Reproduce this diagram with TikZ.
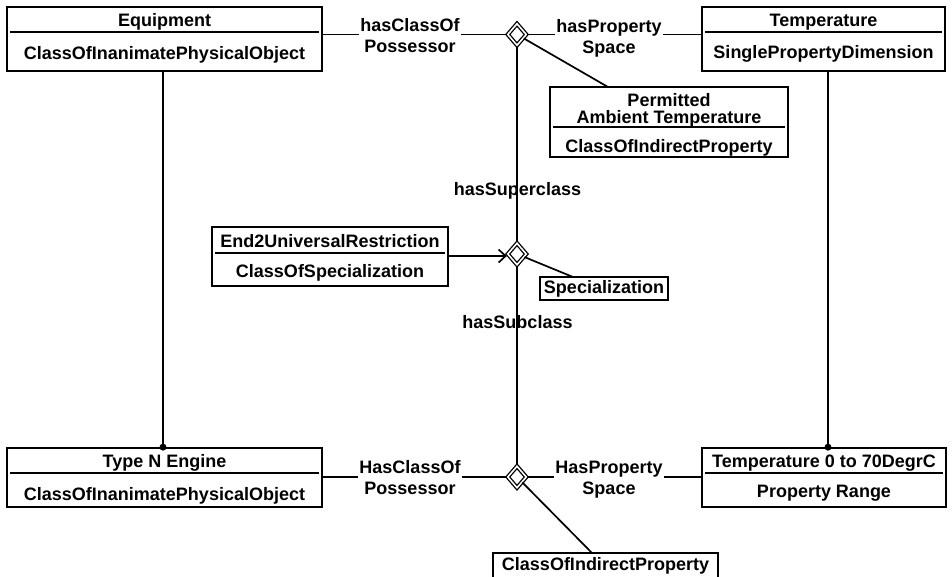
\documentclass[tikz,border=0pt]{standalone}
\usepackage{fontspec}
\setmainfont{Liberation Sans}
\usetikzlibrary{shapes.geometric,arrows.meta,fit}
\begin{document}
\begin{tikzpicture}[x=1pt,y=-1pt,
  box/.style={draw, line width=1.7pt, inner sep=0pt, fill=white},
  txt/.style={font=\bfseries\fontsize{18}{21}\selectfont, inner sep=0pt, anchor=base},
  lbl/.style={font=\bfseries\fontsize{18}{21}\selectfont, align=center, inner sep=1.5pt, fill=white, anchor=center},
  conn/.style={line width=1.7pt},
  divline/.style={line width=1.4pt},
  dia/.style={diamond, draw, line width=1.3pt, double, double distance=1.6pt,
    minimum width=19pt, minimum height=22pt, inner sep=0pt},
  tip/.style={-{Straight Barb[length=7pt,width=13pt]}},
  ]
\useasboundingbox (0,0) rectangle (952,576);

% ---- boxes ----
\node[box, fit={(7,7) (322,71)}] (equip) {};
\draw[divline] (10,32) -- (319,32);
\node[txt] (equipT) at (164.5,26) {Equipment};
\node[txt] (equipB) at (164.5,59) {ClassOfInanimatePhysicalObject};

\node[box, fit={(702,7) (945,71)}] (temp) {};
\draw[divline] (705,32) -- (942,32);
\node[txt] (tempT) at (823.5,26) {Temperature};
\node[txt] (tempB) at (823.5,58) {SinglePropertyDimension};

\node[box, fit={(550,87) (788,157)}] (perm) {};
\draw[divline] (553,127) -- (785,127);
\node[txt] (permT1) at (669,106) {Permitted};
\node[txt] (permT2) at (669,123) {Ambient Temperature};
\node[txt] (permB) at (669,152) {ClassOfIndirectProperty};

\node[box, fit={(212,227) (448,286)}] (end2) {};
\draw[divline] (215,253) -- (445,253);
\node[txt] (end2T) at (330,247) {End2UniversalRestriction};
\node[txt] (end2B) at (330,277) {ClassOfSpecialization};

\node[box, fit={(540,277) (668,300)}] (spec) {};
\node[txt] (specT) at (604,293) {Specialization};

\node[box, fit={(7,448) (322,507)}] (typeN) {};
\draw[divline] (10,473) -- (319,473);
\node[txt] (typeNT) at (164.5,467) {Type N Engine};
\node[txt] (typeNB) at (164.5,500) {ClassOfInanimatePhysicalObject};

\node[box, fit={(702,448) (946,507)}] (trange) {};
\draw[divline] (705,473) -- (943,473);
\node[txt] (trangeT) at (824,467) {Temperature 0 to 70DegrC};
\node[txt] (trangeB) at (824,497) {Property Range};

\node[box, fit={(493,553) (718,590)}] (cip) {};
\node[txt] (cipT) at (605.5,570) {ClassOfIndirectProperty};

% ---- diamonds ----
\node[dia] (d1) at (517,34.5) {};
\node[dia] (d2) at (517,254) {};
\node[dia] (d3) at (517,477) {};

% ---- vertical labels (under the line) ----
\node[txt] (sup) at (517.5,195) {hasSuperclass};
\node[txt] (sub) at (517.5,328) {hasSubclass};

% ---- connectors ----
\draw[conn] (d1) -- (d2);
\draw[conn] (d2) -- (d3);

\draw[conn] (equip.east |- d1) -- (d1);
\draw[conn] (d1) -- (temp.west |- d1);
\draw[conn] (d3) -- (typeN.east |- d3);
\draw[conn] (d3) -- (trange.west |- d3);

\node[lbl] (lhc1) at (410,36) {hasClassOf\\Possessor};
\node[lbl] (lhp1) at (609,38) {hasProperty\\Space};
\node[lbl] (lhc2) at (410,478) {HasClassOf\\Possessor};
\node[lbl] (lhp2) at (609,480) {HasProperty\\Space};

\coordinate (permA) at (608,87);
\coordinate (specA) at (573,277);
\coordinate (cipA) at (592,553);
\draw[conn] (d1) -- (permA);
\draw[conn] (d2) -- (specA);
\draw[conn] (d3) -- (cipA);

\draw[conn, tip] (end2.east |- 0,256) -- (d2.west |- 0,256);

\draw[conn] (equip.south -| 163,0) -- (typeN.north -| 163,0);
\fill (typeN.north -| 163,0) circle (3.5pt);
\draw[conn] (temp.south -| 828,0) -- (trange.north -| 828,0);
\fill (trange.north -| 828,0) circle (3.5pt);
\end{tikzpicture}
\end{document}
